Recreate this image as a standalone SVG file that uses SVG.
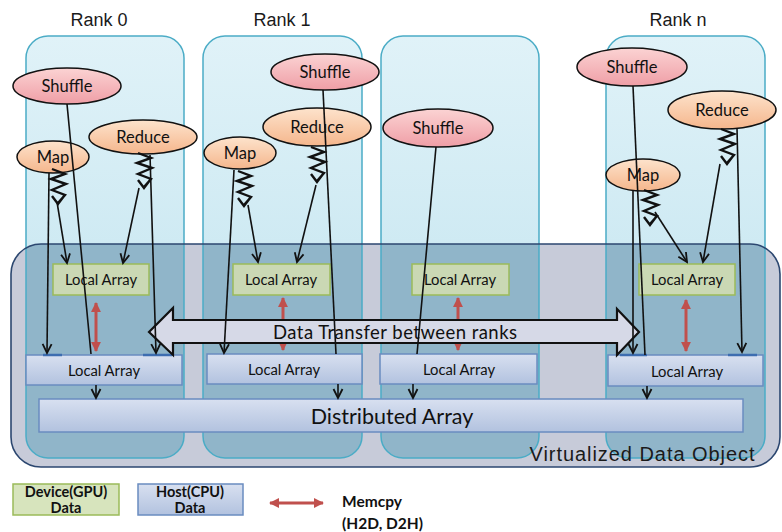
<svg xmlns="http://www.w3.org/2000/svg" xmlns:xlink="http://www.w3.org/1999/xlink" width="782" height="532" viewBox="0 0 782 532">
<defs>
<style>
.rank{fill:url(#gRank);stroke:#4bacc6;stroke-width:1.5}
.rankIn{fill:#90b5c9;stroke:#4bacc6;stroke-width:1.5}
.dev{fill:#cad8b4;stroke:#9bbb59;stroke-width:1.5}
.host{fill:url(#gHost);stroke:#6a8cc0;stroke-width:1.5}
.shuf{fill:url(#gPink);stroke:#111;stroke-width:1.5}
.ored{fill:url(#gOrange);stroke:#111;stroke-width:1.5}
.t{font-family:Lato,"Liberation Sans",sans-serif;fill:#111;text-anchor:middle}
.s{font-family:Lato,"Liberation Sans",sans-serif;fill:#111;text-anchor:start}
.r{font-family:"Liberation Sans",Arial,sans-serif;fill:#1a1a1a;font-size:18px;text-anchor:middle}
.ln{stroke:#111;stroke-width:1.6;fill:none}
.la{stroke:#111;stroke-width:1.6;fill:none;marker-end:url(#mA)}
.red{stroke:#c0504d;stroke-width:3;fill:none;marker-start:url(#mR);marker-end:url(#mR)}
.zz{stroke:#111;stroke-width:2.4;fill:none;stroke-linejoin:miter}
</style>
<linearGradient id="gRank" x1="0" y1="0" x2="0" y2="1"><stop offset="0" stop-color="#e0f2f8"/><stop offset="1" stop-color="#bde2ee"/></linearGradient>
<linearGradient id="gHost" x1="0" y1="0" x2="0" y2="1"><stop offset="0" stop-color="#d8e0f0"/><stop offset="1" stop-color="#b2c2df"/></linearGradient>
<linearGradient id="gPink" x1="0" y1="0" x2="0" y2="1"><stop offset="0" stop-color="#fbd3d3"/><stop offset="1" stop-color="#ef9ea6"/></linearGradient>
<linearGradient id="gOrange" x1="0" y1="0" x2="0" y2="1"><stop offset="0" stop-color="#fde3cc"/><stop offset="1" stop-color="#f5b68c"/></linearGradient>
<clipPath id="cV"><rect x="11" y="244" width="769" height="223" rx="30"/></clipPath>
<marker id="mA" markerUnits="userSpaceOnUse" viewBox="0 0 12 12" refX="10" refY="6" markerWidth="12" markerHeight="12" orient="auto"><path d="M1,1.5 L10,6 L1,10.5" fill="none" stroke="#111" stroke-width="1.8"/></marker>
<marker id="mR" markerUnits="userSpaceOnUse" viewBox="0 0 12 12" refX="10" refY="6" markerWidth="11" markerHeight="11" orient="auto-start-reverse"><path d="M0,0.5 L11,6 L0,11.5 Z" fill="#c0504d"/></marker>
<symbol id="zz" overflow="visible"><path class="zz" d="M2,0 L15,5 L1,10 L16,15 L2,21 L15,26 L8,34 M2,27 L8,35 L14,27"/></symbol>
</defs>
<rect width="782" height="532" fill="#fff"/>

<g id="rank-labels">
<text class="r" x="99" y="26">Rank 0</text>
<text class="r" x="282" y="26">Rank 1</text>
<text class="r" x="678" y="26">Rank n</text>
</g>

<g id="ranks">
<rect class="rank" x="26" y="36" width="158" height="422" rx="22"/>
<rect class="rank" x="203" y="36" width="159" height="422" rx="22"/>
<rect class="rank" x="381" y="36" width="158" height="422" rx="22"/>
<rect class="rank" x="606" y="36" width="159" height="422" rx="22"/>
</g>

<g id="virtualized-data-object">
<rect x="11" y="244" width="769" height="223" rx="30" fill="#c7cbd9"/>
<g clip-path="url(#cV)">
<rect class="rankIn" x="26" y="36" width="158" height="422" rx="22"/>
<rect class="rankIn" x="203" y="36" width="159" height="422" rx="22"/>
<rect class="rankIn" x="381" y="36" width="158" height="422" rx="22"/>
<rect class="rankIn" x="606" y="36" width="159" height="422" rx="22"/>
</g>
<rect x="11" y="244" width="769" height="223" rx="30" fill="none" stroke="#2c4770" stroke-width="1.6"/>
<text x="642" y="461" font-family="'Liberation Sans',Arial,sans-serif" font-size="20" fill="#1a1a1a" text-anchor="middle" textLength="225" lengthAdjust="spacing">Virtualized Data Object</text>
</g>

<g id="device-arrays">
<g id="dev0"><rect class="dev" x="53" y="264" width="96" height="31"/><text class="t" x="101" y="285" font-size="14.8">Local Array</text></g>
<g id="dev1"><rect class="dev" x="233" y="264" width="97" height="31"/><text class="t" x="281" y="285" font-size="14.8">Local Array</text></g>
<g id="dev2"><rect class="dev" x="412" y="264" width="97" height="31"/><text class="t" x="460" y="285" font-size="14.8">Local Array</text></g>
<g id="devn"><rect class="dev" x="639" y="264" width="96" height="31"/><text class="t" x="687" y="285" font-size="14.8">Local Array</text></g>
</g>

<g id="host-arrays">
<g id="host0"><rect class="host" x="26" y="355" width="156" height="30"/><text class="t" x="104" y="376" font-size="14.8">Local Array</text></g>
<g id="host1"><rect class="host" x="207" y="354" width="155" height="30"/><text class="t" x="284" y="375" font-size="14.8">Local Array</text></g>
<g id="host2"><rect class="host" x="380" y="354" width="157" height="30"/><text class="t" x="459" y="375" font-size="14.8">Local Array</text></g>
<g id="hostn"><rect class="host" x="608" y="355" width="155" height="31"/><text class="t" x="687" y="377" font-size="14.8">Local Array</text></g>
<g stroke="#3d6db0" stroke-width="2.5">
<line x1="43" y1="355" x2="62" y2="355"/><line x1="143" y1="355" x2="172" y2="355"/>
<line x1="620" y1="355" x2="647" y2="355"/><line x1="728" y1="355" x2="757" y2="355"/>
</g>
</g>

<g id="distributed-array">
<rect class="host" x="39" y="399" width="704" height="33"/>
<text class="t" x="392" y="424" font-size="21.5">Distributed Array</text>
</g>

<g id="memcpy-arrows">
<line class="red" x1="96" y1="303" x2="96" y2="351"/>
<line class="red" x1="283" y1="298" x2="283" y2="350"/>
<line class="red" x1="458" y1="298" x2="458" y2="350"/>
<line class="red" x1="686" y1="300" x2="686" y2="351"/>
</g>

<g id="data-transfer">
<path d="M149,332 L173,308 L173,320 L617,320 L617,309 L639,332 L617,355 L617,343 L173,343 L173,355 Z" fill="#d6d9e7" stroke="#111" stroke-width="2.2" stroke-linejoin="miter"/>
<text class="t" x="395" y="339" font-size="18.5" textLength="244" lengthAdjust="spacing">Data Transfer between ranks</text>
</g>

<g id="ellipses">
<g id="shuffle0"><ellipse class="shuf" cx="67" cy="86" rx="54" ry="18"/><text class="t" x="67" y="92" font-size="16.5">Shuffle</text></g>
<g id="reduce0"><ellipse class="ored" cx="143" cy="137" rx="54" ry="17"/><text class="t" x="143" y="143" font-size="16.5">Reduce</text></g>
<g id="map0"><ellipse class="ored" cx="53" cy="157" rx="36" ry="16"/><text class="t" x="53" y="163" font-size="16.5">Map</text></g>
<g id="shuffle1"><ellipse class="shuf" cx="325" cy="72" rx="54" ry="18"/><text class="t" x="325" y="78" font-size="16.5">Shuffle</text></g>
<g id="reduce1"><ellipse class="ored" cx="317" cy="127" rx="54" ry="19"/><text class="t" x="317" y="133" font-size="16.5">Reduce</text></g>
<g id="map1"><ellipse class="ored" cx="240" cy="153" rx="36" ry="16"/><text class="t" x="240" y="159" font-size="16.5">Map</text></g>
<g id="shuffle2"><ellipse class="shuf" cx="438" cy="128" rx="55" ry="19"/><text class="t" x="438" y="134" font-size="16.5">Shuffle</text></g>
<g id="shufflen"><ellipse class="shuf" cx="632" cy="67" rx="55" ry="19"/><text class="t" x="632" y="73" font-size="16.5">Shuffle</text></g>
<g id="reducen"><ellipse class="ored" cx="722" cy="110" rx="54" ry="19"/><text class="t" x="722" y="116" font-size="16.5">Reduce</text></g>
<g id="mapn"><ellipse class="ored" cx="643" cy="175" rx="37" ry="16"/><text class="t" x="643" y="181" font-size="16.5">Map</text></g>
</g>

<g id="connectors">
<!-- rank 0 -->
<line class="la" x1="49" y1="173" x2="47" y2="353"/>
<use xlink:href="#zz" x="50" y="169"/>
<line class="la" x1="57" y1="202" x2="67" y2="263"/>
<line class="ln" x1="67" y1="104" x2="91" y2="354"/>
<use xlink:href="#zz" x="136" y="153"/>
<line class="la" x1="139" y1="188" x2="123" y2="263"/>
<line class="la" x1="150" y1="155" x2="156" y2="353"/>
<line class="la" x1="96" y1="385" x2="96" y2="398"/>
<!-- rank 1 -->
<line class="la" x1="234" y1="170" x2="224" y2="353"/>
<use xlink:href="#zz" x="236" y="171"/>
<line class="la" x1="248" y1="205" x2="258" y2="262"/>
<use xlink:href="#zz" x="309" y="147"/>
<line class="la" x1="316" y1="185" x2="297" y2="262"/>
<line class="ln" x1="323" y1="90" x2="336" y2="354"/>
<line class="la" x1="338" y1="384" x2="338" y2="398"/>
<!-- rank 2 -->
<line class="ln" x1="436" y1="147" x2="417" y2="354"/>
<line class="la" x1="413" y1="384" x2="413" y2="398"/>
<!-- rank n -->
<line class="ln" x1="633" y1="86" x2="645" y2="355"/>
<line class="la" x1="633" y1="191" x2="633" y2="353"/>
<use xlink:href="#zz" x="642" y="190"/>
<line class="la" x1="655" y1="212" x2="687" y2="262"/>
<use xlink:href="#zz" x="719" y="129"/>
<line class="la" x1="720" y1="164" x2="703" y2="262"/>
<line class="la" x1="737" y1="128" x2="742" y2="352"/>
<line class="la" x1="647" y1="386" x2="647" y2="398"/>
</g>

<g id="legend">
<g id="legend-device"><rect class="dev" x="13" y="484" width="106" height="31" style="fill:#d7e4bd"/><text class="t" x="66" y="497" font-size="14.5" font-weight="bold">Device(GPU)</text><text class="t" x="66" y="513" font-size="14.5" font-weight="bold">Data</text></g>
<g id="legend-host"><rect class="host" x="138" y="484" width="105" height="31"/><text class="t" x="190" y="497" font-size="14.5" font-weight="bold">Host(CPU)</text><text class="t" x="190" y="513" font-size="14.5" font-weight="bold">Data</text></g>
<g id="legend-memcpy"><line class="red" x1="270" y1="503" x2="323" y2="503"/><text class="s" x="342" y="507" font-size="15.5" font-weight="bold">Memcpy</text><text class="s" x="342" y="529" font-size="15.5" font-weight="bold">(H2D, D2H)</text></g>
</g>
</svg>
